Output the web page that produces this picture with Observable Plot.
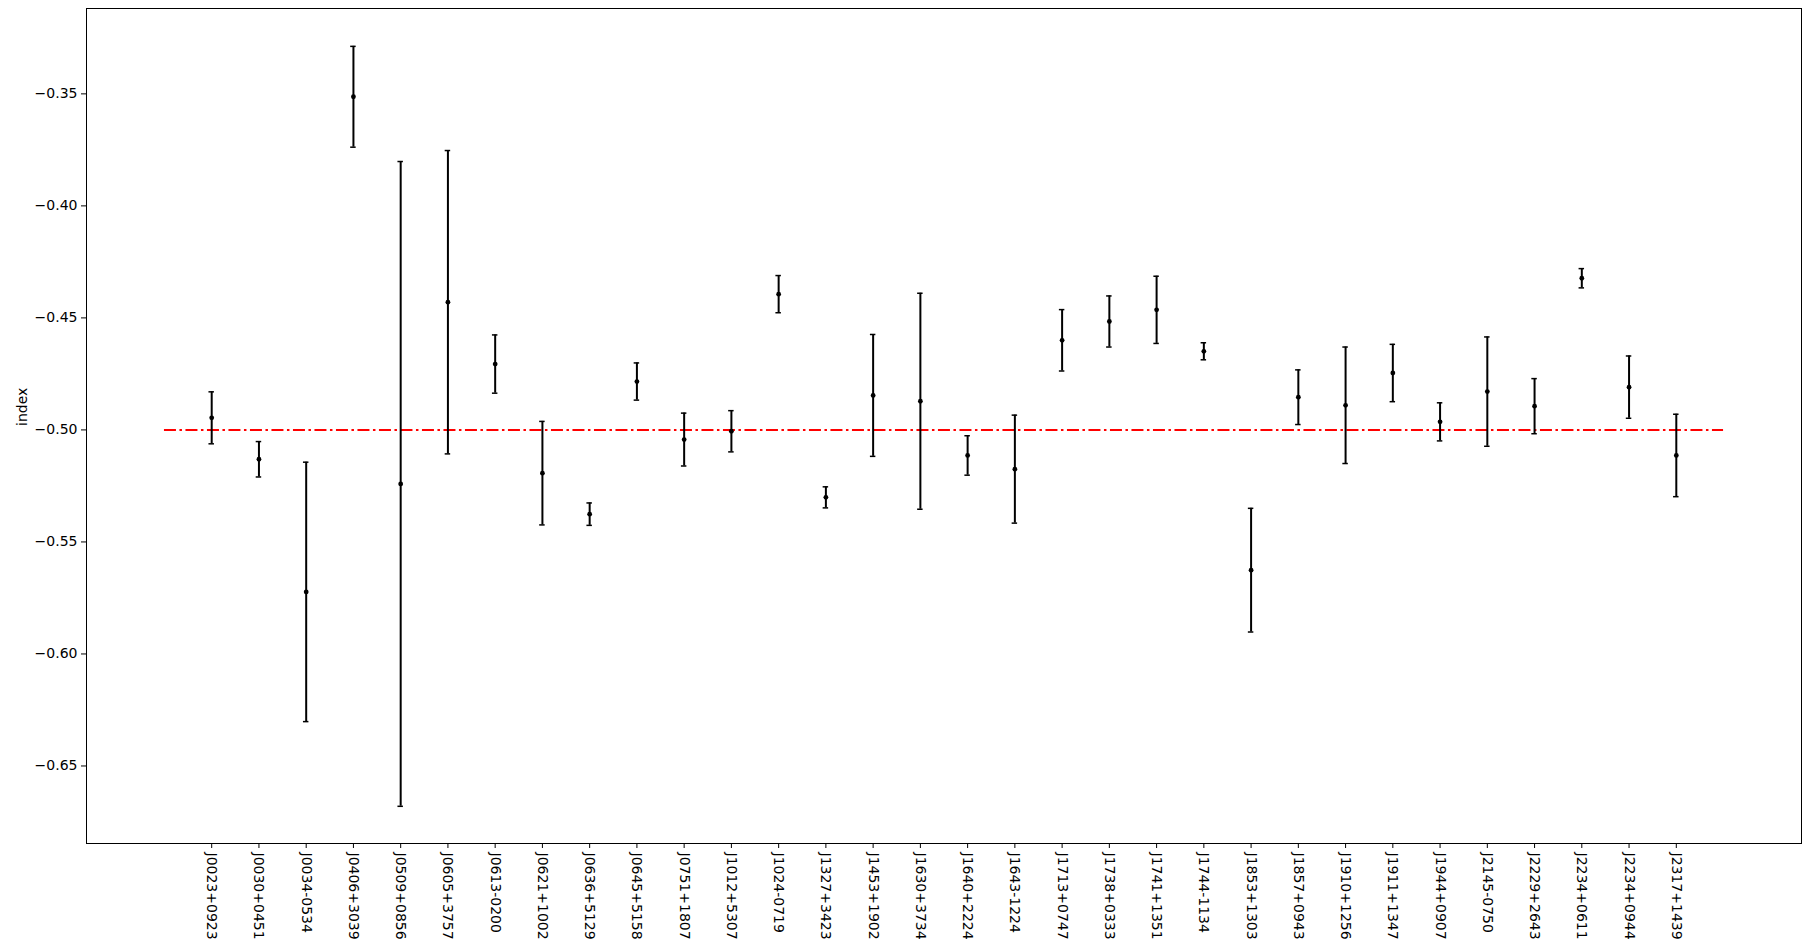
<!DOCTYPE html>
<html>
<head>
<meta charset="utf-8">
<script src="https://cdn.jsdelivr.net/npm/d3@7"></script>
<script src="https://cdn.jsdelivr.net/npm/@observablehq/plot@0.6"></script>
<style>
  html, body { margin: 0; padding: 0; background: #fff; }
  #chart svg { display: block; }
</style>
</head>
<body>
<div id="chart"></div>
<script>
// Pulsar names (x categories)
const names = [
  "J0023+0923","J0030+0451","J0034-0534","J0406+3039","J0509+0856","J0605+3757",
  "J0613-0200","J0621+1002","J0636+5129","J0645+5158","J0751+1807","J1012+5307",
  "J1024-0719","J1327+3423","J1453+1902","J1630+3734","J1640+2224","J1643-1224",
  "J1713+0747","J1738+0333","J1741+1351","J1744-1134","J1853+1303","J1857+0943",
  "J1910+1256","J1911+1347","J1944+0907","J2145-0750","J2229+2643","J2234+0611",
  "J2234+0944","J2317+1439"
];
// index values
const values = [
  -0.4946, -0.5131, -0.5723, -0.3513, -0.5241, -0.4430,
  -0.4706, -0.5193, -0.5376, -0.4784, -0.5043, -0.5006,
  -0.4394, -0.5301, -0.4846, -0.4872, -0.5114, -0.5175,
  -0.4600, -0.4516, -0.4464, -0.4649, -0.5626, -0.4854,
  -0.4890, -0.4746, -0.4964, -0.4829, -0.4894, -0.4323,
  -0.4809, -0.5114
];
// symmetric errors
const errors = [
  0.0116, 0.0079, 0.0579, 0.0225, 0.1439, 0.0677,
  0.0130, 0.0231, 0.0050, 0.0083, 0.0118, 0.0092,
  0.0083, 0.0047, 0.0272, 0.0482, 0.0088, 0.0241,
  0.0137, 0.0114, 0.0150, 0.0038, 0.0276, 0.0122,
  0.0260, 0.0128, 0.0085, 0.0244, 0.0123, 0.0043,
  0.0139, 0.0184
];
// reference level
const reference = [-0.5];
// y tick values
const yTicks = [-0.65, -0.60, -0.55, -0.50, -0.45, -0.40, -0.35];

const data = names.map((name, i) => ({i, name, v: values[i], e: errors[i]}));
const n = names.length;
const cap = 0.058;

const chart = Plot.plot({
  width: 1811,
  height: 940,
  marginLeft: 86,
  marginRight: 10,
  marginTop: 8,
  marginBottom: 97,
  style: {fontFamily: "'DejaVu Sans', sans-serif", fontSize: "14px", color: "black", background: "white"},
  x: {type: "linear", domain: [-2.65, n - 1 + 2.65]},
  y: {domain: [-0.6846, -0.3119]},
  marks: [
    Plot.frame({stroke: "black", strokeWidth: 1}),
    Plot.axisY({ticks: yTicks, tickFormat: d3.format(".2f"), tickSize: 5, tickPadding: 4, fontSize: 14, label: null}),
    Plot.axisX({ticks: d3.range(n), tickFormat: i => names[i], tickSize: 5, tickPadding: 4, tickRotate: 90, fontSize: 14, label: null}),
    Plot.text(["index"], {frameAnchor: "left", dx: -64, rotate: -90, fontSize: 14, fill: "black"}),
    Plot.ruleY(reference, {x1: -1, x2: n, stroke: "red", strokeWidth: 2, strokeDasharray: "12,3.5,2.5,3.5"}),
    Plot.ruleX(data, {x: "i", y1: d => d.v - d.e, y2: d => d.v + d.e, stroke: "black", strokeWidth: 2}),
    Plot.ruleY(data, {y: d => d.v + d.e, x1: d => d.i - cap, x2: d => d.i + cap, stroke: "black", strokeWidth: 1.5}),
    Plot.ruleY(data, {y: d => d.v - d.e, x1: d => d.i - cap, x2: d => d.i + cap, stroke: "black", strokeWidth: 1.5}),
    Plot.dot(data, {x: "i", y: "v", r: 2.4, fill: "black", stroke: "none"})
  ]
});
document.getElementById("chart").appendChild(chart);
</script>
</body>
</html>
